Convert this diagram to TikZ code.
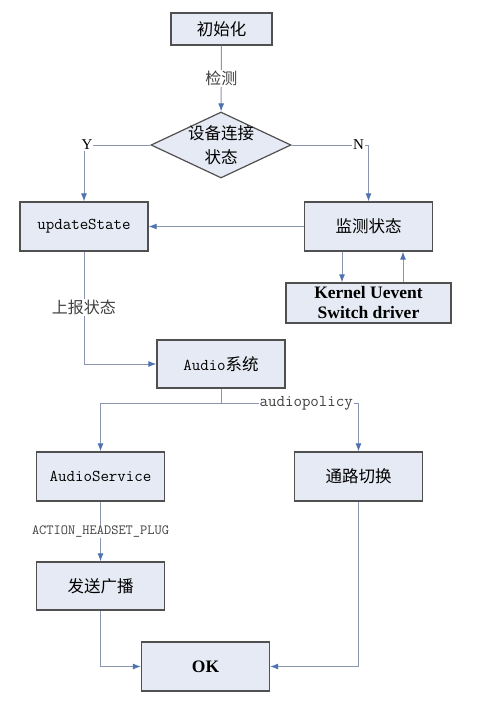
\documentclass[tikz,border=0pt]{standalone}
\usepackage{fontspec}
\setmainfont{Liberation Serif}
\newfontfamily\cjk{Noto Sans CJK SC}
\usetikzlibrary{shapes.geometric,positioning,arrows.meta,calc}
\definecolor{boxfill}{HTML}{E6EAF4}
\definecolor{boxline}{HTML}{505050}
\definecolor{linkgray}{HTML}{8A96B0}
\definecolor{tipblue}{HTML}{4F72B0}

\begin{document}
\begin{tikzpicture}[
    x=1pt, y=-1pt,
    box/.style={rectangle, draw=boxline, line width=1.3pt, fill=boxfill, minimum width=128pt, minimum height=49pt, inner sep=0pt, align=center, font=\cjk\fontsize{16.5}{20}\selectfont},
    codebox/.style={box, font=\ttfamily\fontsize{16.5}{20}\selectfont},
    boldbox/.style={box, font=\bfseries\fontsize{17.5}{20}\selectfont},
    cond/.style={diamond, draw=boxline, line width=1.2pt, fill=boxfill, aspect=2.1, inner sep=-3pt, minimum width=140pt, minimum height=66pt, align=center, font=\cjk\fontsize{16.5}{24}\selectfont},
    flow/.style={draw=linkgray, line width=1pt, -{Latex[length=8pt,width=6pt,color=tipblue]}},
    link/.style={draw=linkgray, line width=1pt},
    lbl/.style={fill=white, inner sep=1pt, text=black!75, font=\cjk\fontsize{16}{20}\selectfont},
    codelbl/.style={lbl, font=\ttfamily\fontsize{16.5}{20}\selectfont},
    yn/.style={fill=white, inner sep=1pt, font=\fontsize{15}{18}\selectfont}
]
\useasboundingbox (0,0) rectangle (486,705);

% Detection
\node[box, minimum width=101pt, minimum height=32pt] (init) at (221.5,29) {初始化};
\node[cond] (cond) at (221,145) {设备连接\\状态};
\node[codebox] (upd) at (84,226.5) {updateState};
\node[box] (mon) at (368.5,226.5) {监测状态};
\node[boldbox, minimum width=165pt, minimum height=40pt] (kern) at (368.5,303) {Kernel Uevent\\Switch driver};

% Audio system
\node[box, minimum height=48pt] (audio) at (221,364) {{\ttfamily Audio}系统};
\node[codebox] (asvc) at (100.5,476.5) {AudioService};
\node[box] (route) at (358.5,476.5) {通路切换};
\node[box, minimum height=48pt] (bcast) at (100.5,586) {发送广播};
\node[boldbox] (ok) at (205.5,666.5) {OK};

% Arrows - detection
\draw[flow] (init) -- node[lbl]{检测} (cond);
\draw[flow] (cond.west) -- node[pos=1, yn, xshift=3pt]{Y} (cond.west -| upd.north) -- (upd.north);
\draw[flow] (cond.east) -- node[pos=1, yn, xshift=-10pt]{N} (cond.east -| mon.north) -- (mon.north);
\draw[flow] (mon) -- (upd);
\draw[flow] ([xshift=-26.5pt]mon.south) -- ([xshift=-26.5pt]kern.north);
\draw[flow] ([xshift=34.5pt]kern.north) -- ([xshift=34.5pt]mon.south);

% Arrows - audio
\draw[flow] (upd) |- node[pos=0.25, lbl]{上报状态} (audio);
\draw[link] (audio.south) -- ++(0,15) coordinate (split);
\draw[flow] (split) -| (asvc);
\draw[flow] (split) -| node[pos=0.31, codelbl]{audiopolicy} (route);
\draw[flow] (asvc) -- node[codelbl, font=\ttfamily\fontsize{14}{16}\selectfont]{ACTION\_HEADSET\_PLUG} (bcast);
\draw[flow] (bcast) |- (ok);
\draw[flow] (route) |- (ok);

\end{tikzpicture}
\end{document}
